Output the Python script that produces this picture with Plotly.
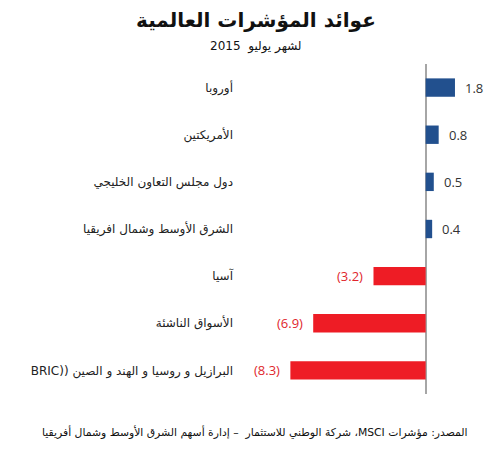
import plotly.graph_objects as go

RLE, PDF = "\u202B", "\u202C"

categories = [
    "أوروبا",
    "الأمريكتين",
    "دول مجلس التعاون الخليجي",
    "الشرق الأوسط وشمال افريقيا",
    "آسيا",
    "الأسواق الناشئة",
    "البرازيل و روسيا و الهند و الصين ((BRIC",
]
values = [1.8, 0.8, 0.5, 0.4, -3.2, -6.9, -8.3]

title_text = "عوائد المؤشرات العالمية"
subtitle_text = "لشهر يوليو  2015"
source_text = "المصدر: مؤشرات MSCI، شركة الوطني للاستثمار  – إدارة أسهم الشرق الأوسط وشمال أفريقيا"

BLUE = "#22508e"
RED = "#ee1c25"
W, H = 493, 450
L, R, T, B = 234, 10, 64, 56
pw = W - L - R
ph = H - T - B

cat_labels = [RLE + c + PDF for c in categories]
colors = [BLUE if v >= 0 else RED for v in values]

fig = go.Figure()
fig.add_trace(go.Bar(
    x=values, y=cat_labels, orientation="h",
    marker=dict(color=colors, line=dict(width=0)),
    width=0.39, hoverinfo="skip",
))

annotations = []
for c, v in zip(cat_labels, values):
    if v >= 0:
        annotations.append(dict(x=v, y=c, xref="x", yref="y", text=f"{v:.1f}",
                                showarrow=False, xanchor="left", xshift=8,
                                font=dict(family="Open Sans, DejaVu Sans", size=13, color="#333333")))
    else:
        annotations.append(dict(x=v, y=c, xref="x", yref="y", text=f"({abs(v):.1f})",
                                showarrow=False, xanchor="right", xshift=-8,
                                font=dict(family="Open Sans, DejaVu Sans", size=13, color="#e0262c")))

def px_to_paper_x(px):
    return (px - L) / pw

def px_to_paper_y(py):
    return (H - B - py) / ph

annotations.append(dict(text="<b>" + RLE + title_text + PDF + "</b>", x=px_to_paper_x(256), y=px_to_paper_y(20),
                        xref="paper", yref="paper", showarrow=False, xanchor="center", yanchor="middle",
                        font=dict(family="DejaVu Sans", size=20, color="#111111")))
annotations.append(dict(text=RLE + subtitle_text + PDF, x=px_to_paper_x(256), y=px_to_paper_y(46),
                        xref="paper", yref="paper", showarrow=False, xanchor="center", yanchor="middle",
                        font=dict(family="DejaVu Sans", size=12, color="#111111")))
annotations.append(dict(text=RLE + source_text + PDF, x=px_to_paper_x(470), y=px_to_paper_y(432),
                        xref="paper", yref="paper", showarrow=False, xanchor="right", yanchor="middle",
                        font=dict(family="DejaVu Sans", size=10.8, color="#111111")))

fig.update_layout(
    width=W, height=H,
    margin=dict(l=L, r=R, t=T, b=B, pad=0),
    paper_bgcolor="white", plot_bgcolor="white",
    showlegend=False,
    bargap=0.6,
    xaxis=dict(range=[-11.76, 3.52], showgrid=False, showticklabels=False, ticks="",
               zeroline=True, zerolinecolor="#a6a6a6", zerolinewidth=1.5, fixedrange=True),
    yaxis=dict(autorange="reversed", showgrid=False, ticks="", zeroline=False,
               tickfont=dict(family="DejaVu Sans", size=12, color="#222222"), fixedrange=True),
    annotations=annotations,
)

fig.write_html("out.html", config={"displayModeBar": False})
